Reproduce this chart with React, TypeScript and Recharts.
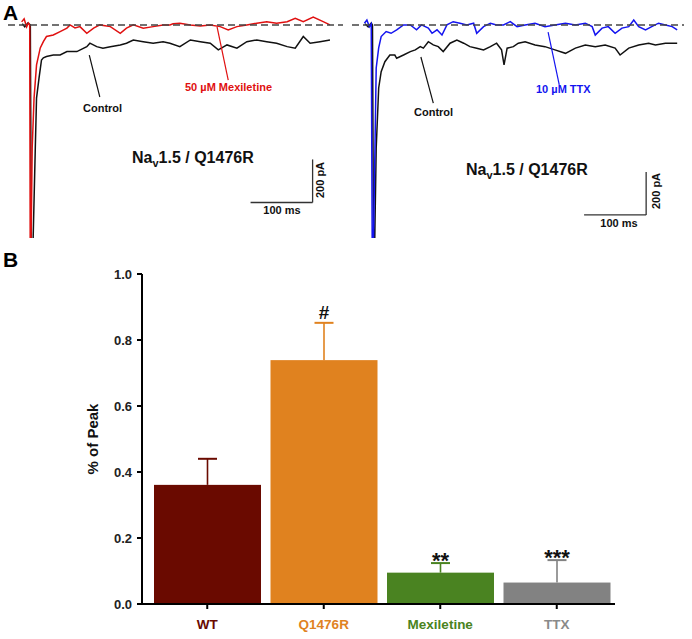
import { BarChart, Bar, Cell, LineChart, Line, XAxis, YAxis, ReferenceLine } from "recharts";

// panel A traces: [time ms, current pA]
const mexiletineTrace = [
  [22, 14], [26, 28], [30, -9], [33, 9], [35, 0], [36, -1300], [39, -572], [42, -340], [46, -186], [52, -107],
  [57, -78], [62, -54], [73, -47], [84, -31], [95, -15], [100, 0], [108, -14], [116, -8], [127, -39], [138, -15],
  [148, 0], [165, -8], [181, -39], [191, -15], [202, 0], [218, -15], [234, -8], [250, 0], [261, 0], [266, 5],
  [277, 8], [294, 0], [310, -5], [326, 0], [342, -8], [355, -23], [369, -8], [385, 0], [401, 8], [417, 15],
  [433, 8], [450, 15], [463, 31], [476, 15], [492, 36], [508, 15], [519, 0],
];
const controlLeftTrace = [
  [23, 5], [27, -9], [32, 9], [36, 0], [38, -1300], [44, -572], [46, -340], [50, -247], [54, -163], [57, -153],
  [62, -147], [73, -140], [84, -140], [95, -124], [111, -124], [127, -101], [132, -85], [143, -101], [153, -108],
  [165, -101], [181, -93], [191, -85], [202, -70], [218, -78], [234, -85], [250, -78], [261, -85], [277, -101],
  [294, -70], [310, -78], [326, -85], [339, -116], [353, -93], [369, -108], [385, -78], [401, -70], [417, -78],
  [433, -85], [450, -101], [463, -108], [476, -54], [487, -85], [503, -78], [519, -70],
];
const ttxTrace = [
  [20, 8], [24, 23], [28, -9], [31, 5], [33, -1300], [37, -572], [39, -200], [43, -107], [47, -54], [55, -31],
  [63, -39], [72, -23], [83, 0], [94, 0], [104, -23], [112, 0], [123, -15], [129, -39], [137, -23], [145, -47],
  [153, 0], [163, 15], [174, 8], [185, 0], [196, 8], [201, -39], [212, -8], [223, 8], [233, 0], [244, 0],
  [255, 15], [266, -8], [279, 0], [295, 8], [311, -8], [327, 0], [344, 8], [360, 0], [376, 8], [387, -8],
  [392, -47], [403, -15], [413, -8], [424, -39], [435, -15], [446, -8], [454, 23], [462, -8], [473, -23],
  [483, -8], [494, 8], [505, 0], [516, -8], [524, -23],
];
const controlRightTrace = [
  [21, 5], [26, -9], [31, 9], [33, 0], [35, -1300], [39, -572], [43, -293], [47, -217], [53, -171], [61, -140],
  [69, -140], [72, -155], [83, -140], [94, -124], [102, -116], [110, -101], [115, -108], [123, -78], [131, -93],
  [139, -101], [147, -124], [158, -85], [169, -70], [180, -85], [190, -101], [201, -108], [212, -116], [223, -101],
  [233, -85], [241, -116], [245, -186], [250, -108], [260, -101], [268, -85], [279, -78], [295, -93], [311, -101],
  [327, -116], [344, -132], [360, -108], [376, -93], [392, -101], [408, -93], [424, -108], [432, -140], [446, -108],
  [462, -93], [478, -85], [489, -93], [505, -85], [524, -85],
];

// panel B
const groups = ["WT", "Q1476R", "Mexiletine", "TTX"];
const meanPeak = [0.361, 0.739, 0.095, 0.065];
const errorTop = [0.44, 0.852, 0.124, 0.133];
const marks = ["", "#", "**", "***"];
const yTicks = [0, 0.2, 0.4, 0.6, 0.8, 1.0];

const groupColors = ["#6a0a00", "#e0821f", "#4a8321", "#828282"];
const labelColors = ["#6a0a00", "#e0821f", "#4a8321", "#8a8a8a"];
const FONT = "'Liberation Sans', Arial, Helvetica, sans-serif";

const toPoints = (trace: number[][]) => trace.map(([t, i]) => ({ t, i }));
const barData = groups.map((g, k) => ({ group: g, value: meanPeak[k], upper: errorTop[k], mark: marks[k] }));

function TracePanel({ left, width, maxTime, control, drug, drugColor, pointers, scaleBar }: any) {
  return (
    <div style={{ position: "absolute", left, top: 15 }}>
      <LineChart width={width} height={223} margin={{ top: 0, right: 0, bottom: 0, left: 0 }}>
        <XAxis type="number" dataKey="t" domain={[0, maxTime]} hide allowDataOverflow />
        <YAxis type="number" dataKey="i" domain={[-990, 46]} hide allowDataOverflow />
        <Line data={toPoints(control)} dataKey="i" type="linear" stroke="#111" strokeWidth={1.5} dot={false} isAnimationActive={false} />
        <Line data={toPoints(drug)} dataKey="i" type="linear" stroke={drugColor} strokeWidth={1.5} dot={false} isAnimationActive={false} />
        <ReferenceLine y={0} stroke="#444" strokeWidth={1.5} strokeDasharray="7 4" />
        {pointers.map((p: any, k: number) => (
          <ReferenceLine key={k} segment={[{ x: p[0], y: p[1] }, { x: p[2], y: p[3] }]} stroke={p[4]} strokeWidth={1.2} />
        ))}
        {/* 100 ms / 200 pA scale bar */}
        <ReferenceLine segment={[{ x: scaleBar[0] - 100, y: scaleBar[1] - 200 }, { x: scaleBar[0], y: scaleBar[1] - 200 }]} stroke="#333" strokeWidth={1.3} />
        <ReferenceLine segment={[{ x: scaleBar[0], y: scaleBar[1] }, { x: scaleBar[0], y: scaleBar[1] - 200 }]} stroke="#333" strokeWidth={1.3} />
      </LineChart>
    </div>
  );
}

function BarWithError(props: any) {
  const { x, y, width, height, payload, index } = props;
  const color = groupColors[index];
  const perUnit = height / payload.value;
  const yTop = y + height - payload.upper * perUnit;
  const cx = x + width / 2;
  return (
    <g>
      <rect x={x} y={y} width={width} height={height} fill={color} />
      <line x1={cx} x2={cx} y1={y} y2={yTop} stroke={color} strokeWidth={1.6} />
      <line x1={cx - 9.5} x2={cx + 9.5} y1={yTop} y2={yTop} stroke={color} strokeWidth={2} />
      {payload.mark === "#" && (
        <text x={cx} y={yTop - 4} textAnchor="middle" fontFamily={FONT} fontWeight="bold" fontSize={19} fill="#111">
          {payload.mark}
        </text>
      )}
      {payload.mark && payload.mark !== "#" && (
        <text x={cx} y={yTop + 5} textAnchor="middle" fontFamily={FONT} fontWeight="bold" fontSize={22} fill="#111">
          {payload.mark}
        </text>
      )}
    </g>
  );
}

function GroupTick({ x, y, payload }: any) {
  const k = groups.indexOf(payload.value);
  return (
    <text x={x} y={y} dy="0.71em" textAnchor="middle" fontFamily={FONT} fontWeight="bold" fontSize={13.5} fill={labelColors[k]}>
      {payload.value}
    </text>
  );
}

export default function App() {
  const small = { fontFamily: FONT, fontWeight: "bold" as const, fontSize: 11 };
  return (
    <div style={{ position: "fixed", left: 0, top: 0, width: 692, height: 639, background: "#fff", overflow: "hidden" }}>
      <TracePanel
        left={8}
        width={335}
        maxTime={540}
        control={controlLeftTrace}
        drug={mexiletineTrace}
        drugColor="#e01010"
        pointers={[
          [131, -140, 148, -335, "#111"],
          [337, -9, 355, -256, "#e01010"],
        ]}
        scaleBar={[491, -625]}
      />
      <TracePanel
        left={352}
        width={332}
        maxTime={535}
        control={controlRightTrace}
        drug={ttxTrace}
        drugColor="#1414f0"
        pointers={[
          [111, -149, 131, -363, "#111"],
          [316, -33, 334, -279, "#1414f0"],
        ]}
        scaleBar={[474, -683]}
      />

      <div style={{ position: "absolute", left: 0, top: 240 }}>
        <BarChart width={692} height={399} data={barData} margin={{ top: 34, right: 77, bottom: 0, left: 0 }} barCategoryGap={5}>
          <XAxis
            dataKey="group"
            height={35}
            padding={{ left: 7, right: 0 }}
            axisLine={{ stroke: "#000", strokeWidth: 2 }}
            tickLine={{ stroke: "#000", strokeWidth: 2 }}
            tickSize={5}
            tickMargin={10}
            tick={<GroupTick />}
            interval={0}
          />
          <YAxis
            width={142}
            domain={[0, 1]}
            ticks={yTicks}
            tickFormatter={(v: number) => v.toFixed(1)}
            axisLine={{ stroke: "#000", strokeWidth: 2 }}
            tickLine={{ stroke: "#000", strokeWidth: 2 }}
            tickSize={5}
            tickMargin={5}
            tick={{ fontFamily: FONT, fontWeight: "bold", fontSize: 13, fill: "#222" }}
          />
          <Bar dataKey="value" shape={<BarWithError />} isAnimationActive={false}>
            {barData.map((_, k) => (
              <Cell key={k} fill={groupColors[k]} />
            ))}
          </Bar>
        </BarChart>
      </div>

      <svg width={692} height={639} style={{ position: "absolute", left: 0, top: 0, pointerEvents: "none" }}>
        <text x={3} y={20} fontFamily={FONT} fontWeight="bold" fontSize={21} fill="#000">A</text>
        <text x={3} y={267} fontFamily={FONT} fontWeight="bold" fontSize={21} fill="#000">B</text>

        <text x={83} y={112} {...small} fill="#111">Control</text>
        <text x={185} y={91} {...small} fill="#e01010">50 µM Mexiletine</text>
        <text x={414} y={115.5} {...small} fill="#111">Control</text>
        <text x={536} y={93} {...small} fill="#1414f0">10 µM TTX</text>

        <text x={132} y={163} fontFamily={FONT} fontWeight="bold" fontSize={16} fill="#111">
          Na<tspan dy={4} fontSize={11}>v</tspan><tspan dy={-4}>1.5 / Q1476R</tspan>
        </text>
        <text x={466} y={175} fontFamily={FONT} fontWeight="bold" fontSize={16} fill="#111">
          Na<tspan dy={4} fontSize={11}>v</tspan><tspan dy={-4}>1.5 / Q1476R</tspan>
        </text>

        <text x={282} y={214} textAnchor="middle" {...small} fill="#111">100 ms</text>
        <text transform="translate(324 180) rotate(-90)" textAnchor="middle" {...small} fill="#111">200 pA</text>
        <text x={619} y={227} textAnchor="middle" {...small} fill="#111">100 ms</text>
        <text transform="translate(660 191) rotate(-90)" textAnchor="middle" {...small} fill="#111">200 pA</text>

        <text transform="translate(98 439) rotate(-90)" textAnchor="middle" fontFamily={FONT} fontWeight="bold" fontSize={15} fill="#111">
          % of Peak
        </text>
      </svg>
    </div>
  );
}
